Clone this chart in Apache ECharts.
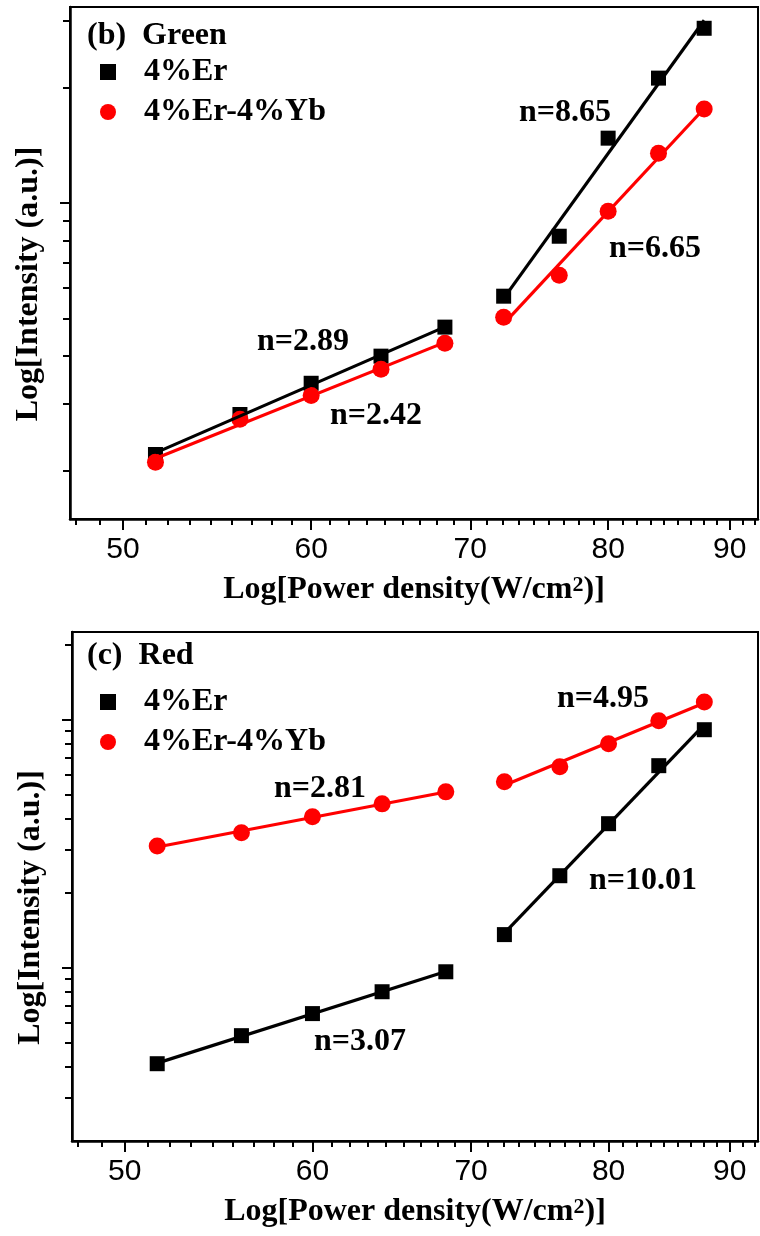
<!DOCTYPE html>
<html>
<head>
<meta charset="utf-8">
<script src="https://cdn.jsdelivr.net/npm/echarts@6.0.0/dist/echarts.min.js"></script>
<style>
  html, body { margin: 0; padding: 0; background: #fff; }
  #main { width: 760px; height: 1236px; }
</style>
</head>
<body>
<div id="main"></div>
<script>
// power density, same for both panels
const powerDensity = [51.6, 56.0, 60.0, 64.2, 68.3, 72.3, 76.3, 80.0, 84.0, 87.8];
// (b) green emission
const greenEr   = [0.221, 0.281, 0.339, 0.399, 0.475, 0.572, 0.820, 1.478, 2.12, 2.86];
const greenErYb = [0.211, 0.273, 0.315, 0.369, 0.431, 0.504, 0.649, 0.953, 1.35, 1.76];
// (c) red emission
const redEr   = [0.410, 0.532, 0.653, 0.800, 0.963, 1.36, 2.35, 3.81, 6.53, 9.12];
const redErYb = [3.10, 3.50, 4.06, 4.58, 5.12, 5.62, 6.46, 8.00, 9.91, 11.8];

const seriesNames = ['4%Er', '4%Er-4%Yb'];
const greenSlopes = ['n=2.89', 'n=2.42', 'n=8.65', 'n=6.65'];
const redSlopes = ['n=2.81', 'n=3.07', 'n=4.95', 'n=10.01'];

// tick values
const xMajor = [50, 60, 70, 80, 90];
const greenYMajor = [1];
const greenYMinor = [0.2, 0.3, 0.4, 0.5, 0.6, 0.7, 0.8, 0.9, 2, 3];
const redYMajor = [1, 10];
const redYMinor = [0.3, 0.4, 0.5, 0.6, 0.7, 0.8, 0.9, 2, 3, 4, 5, 6, 7, 8, 9, 20];

// 8 minor ticks between majors, evenly in value
const xMinor = [];
for (let m = 40; m < 100; m += 10) {
  for (let k = 1; k < 9; k++) {
    const v = m + k * 10 / 9;
    if (v > 47.5 && v < 92.5) xMinor.push(v);
  }
}

// least squares line in log-log space, from first to last point
function fitLine(xs, ys) {
  const lx = xs.map(Math.log10), ly = ys.map(Math.log10);
  const n = lx.length;
  const mx = lx.reduce((a, b) => a + b, 0) / n;
  const my = ly.reduce((a, b) => a + b, 0) / n;
  let sxy = 0, sxx = 0;
  for (let i = 0; i < n; i++) {
    sxy += (lx[i] - mx) * (ly[i] - my);
    sxx += (lx[i] - mx) * (lx[i] - mx);
  }
  const k = sxy / sxx;
  return [
    [xs[0], Math.pow(10, my + k * (lx[0] - mx))],
    [xs[n - 1], Math.pow(10, my + k * (lx[n - 1] - mx))]
  ];
}

const serif = 'Liberation Serif';
const boldText = { fontFamily: serif, fontWeight: 'bold', fontSize: 32, color: '#000' };

function xAxes(grid) {
  return [
    {
      type: 'log', logBase: 10, gridIndex: grid, min: 47.5, max: 92.5, position: 'bottom',
      name: 'Log[Power density(W/cm{sup|2})]',
      nameLocation: 'middle', nameGap: 55,
      nameTextStyle: Object.assign({}, boldText, {
        rich: { sup: { fontFamily: serif, fontWeight: 'bold', fontSize: 22, lineHeight: 20, color: '#000', verticalAlign: 'top' } }
      }),
      axisLine: { show: true, lineStyle: { color: '#000', width: 2.5 } },
      axisTick: { show: true, inside: false, length: 11, lineStyle: { color: '#000', width: 2 }, customValues: xMajor },
      axisLabel: {
        customValues: xMajor, margin: 16, color: '#000',
        fontFamily: 'Liberation Sans', fontSize: 30,
        formatter: v => String(Math.round(v))
      },
      splitLine: { show: false }
    },
    {
      type: 'log', logBase: 10, gridIndex: grid, min: 47.5, max: 92.5, position: 'bottom', offset: 0,
      axisLine: { show: false },
      axisTick: { show: true, inside: false, length: 6, lineStyle: { color: '#000', width: 2 }, customValues: xMinor },
      axisLabel: { show: false },
      splitLine: { show: false }
    }
  ];
}

function yAxes(grid, min, max, major, minor) {
  return [
    {
      type: 'log', logBase: 10, gridIndex: grid, min: min, max: max, position: 'left',
      name: 'Log[Intensity (a.u.)]',
      nameLocation: 'middle', nameGap: 25, nameRotate: 90,
      nameTextStyle: Object.assign({}, boldText, { padding: [0, 42, 0, 0] }),
      axisLine: { show: true, lineStyle: { color: '#000', width: 2.5 } },
      axisTick: { show: true, inside: false, length: 10, lineStyle: { color: '#000', width: 2 }, customValues: major },
      axisLabel: { show: false },
      splitLine: { show: false }
    },
    {
      type: 'log', logBase: 10, gridIndex: grid, min: min, max: max, position: 'left', offset: 0,
      axisLine: { show: false },
      axisTick: { show: true, inside: false, length: 7, lineStyle: { color: '#000', width: 2 }, customValues: minor },
      axisLabel: { show: false },
      splitLine: { show: false }
    }
  ];
}

function panelSeries(axis, er, erYb) {
  const pts = ys => powerDensity.map((x, i) => [x, ys[i]]);
  const base = { xAxisIndex: axis, yAxisIndex: axis };
  const line = (ys, from, to, color, name) => Object.assign({
    name: name, type: 'line', symbol: 'none', silent: true,
    data: fitLine(powerDensity.slice(from, to), ys.slice(from, to)),
    lineStyle: { color: color, width: 3.2 }
  }, base);
  return [
    Object.assign({ name: seriesNames[0], type: 'scatter', symbol: 'rect', symbolSize: 15,
      itemStyle: { color: '#000', opacity: 1 }, data: pts(er) }, base),
    Object.assign({ name: seriesNames[1], type: 'scatter', symbol: 'circle', symbolSize: 17,
      itemStyle: { color: '#ff0000', opacity: 1 }, data: pts(erYb) }, base),
    line(er, 0, 5, '#000', 'fitEr1'),
    line(er, 5, 10, '#000', 'fitEr2'),
    line(erYb, 0, 5, '#ff0000', 'fitErYb1'),
    line(erYb, 5, 10, '#ff0000', 'fitErYb2')
  ];
}

function legendAt(top) {
  return {
    orient: 'vertical', left: 100, top: top, padding: 0,
    itemWidth: 16, itemHeight: 16, itemGap: 8, selectedMode: false,
    itemStyle: { opacity: 1 },
    textStyle: Object.assign({}, boldText, { lineHeight: 32, padding: [0, 0, 0, 23] }),
    data: [{ name: seriesNames[0], icon: 'rect' }, { name: seriesNames[1], icon: 'circle' }]
  };
}

function slopeText(text, x, y) {
  return {
    type: 'text', x: x, y: y,
    style: {
      text: text, fill: '#000', fontFamily: serif, fontWeight: 'bold', fontSize: 32,
      align: 'center', verticalAlign: 'middle'
    }
  };
}

let myChart = echarts.init(document.getElementById('main'));
let option = {
  animation: false,
  backgroundColor: '#fff',
  title: [
    { text: '(b)  Green', left: 87, top: 20, padding: 0, textStyle: boldText },
    { text: '(c)  Red', left: 87, top: 640, padding: 0, textStyle: boldText }
  ],
  legend: [legendAt(56), legendAt(686)],
  grid: [
    { left: 70, top: 7, width: 688, height: 512, show: true, borderColor: '#000', borderWidth: 2, outerBoundsMode: 'none' },
    { left: 72, top: 632, width: 686, height: 509, show: true, borderColor: '#000', borderWidth: 2, outerBoundsMode: 'none' }
  ],
  xAxis: xAxes(0).concat(xAxes(1)),
  yAxis: yAxes(0, 0.15, 3.25, greenYMajor, greenYMinor)
    .concat(yAxes(1, 0.2, 22.6, redYMajor, redYMinor)),
  series: panelSeries(0, greenEr, greenErYb).concat(panelSeries(2, redEr, redErYb)),
  graphic: [
    slopeText(greenSlopes[0], 303, 342),
    slopeText(greenSlopes[1], 376, 416),
    slopeText(greenSlopes[2], 565, 113),
    slopeText(greenSlopes[3], 655, 249),
    slopeText(redSlopes[0], 320, 789),
    slopeText(redSlopes[1], 360, 1042),
    slopeText(redSlopes[2], 603, 699),
    slopeText(redSlopes[3], 643, 881)
  ]
};
myChart.setOption(option);
</script>
</body>
</html>
